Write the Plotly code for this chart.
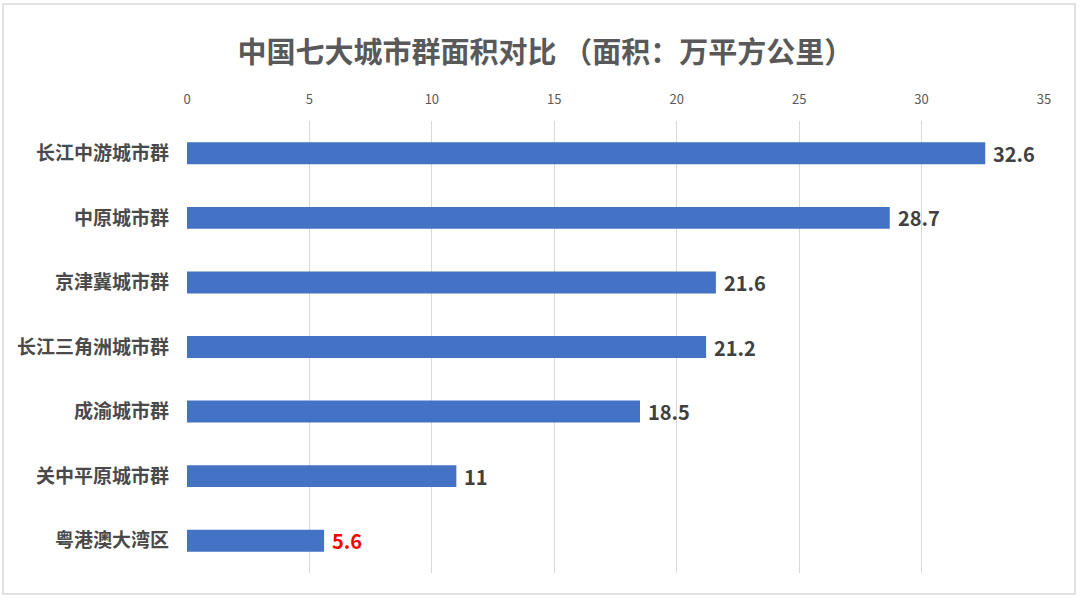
import plotly.graph_objects as go

categories = ["长江中游城市群", "中原城市群", "京津冀城市群", "长江三角洲城市群",
              "成渝城市群", "关中平原城市群", "粤港澳大湾区"]
values = [32.6, 28.7, 21.6, 21.2, 18.5, 11, 5.6]
label_texts = ["32.6", "28.7", "21.6", "21.2", "18.5", "11", "5.6"]
label_colors = ["#404040"] * 6 + ["#ff0000"]
tick_vals = [0, 5, 10, 15, 20, 25, 30, 35]
title_text = "中国七大城市群面积对比 （面积：万平方公里）"

FONT = "Noto Sans CJK SC, Noto Sans, sans-serif"

fig = go.Figure()
fig.add_trace(go.Bar(
    y=categories, x=values, orientation="h",
    marker=dict(color="#4472C4", line=dict(width=0)),
    width=0.34, hoverinfo="x+y",
))

for c, v, t, col in zip(categories, values, label_texts, label_colors):
    fig.add_annotation(x=v, y=c, text=f"<b>{t}</b>", showarrow=False,
                       xanchor="left", yanchor="middle", xshift=6,
                       font=dict(family=FONT, size=20, color=col))

fig.add_shape(type="rect", xref="paper", yref="paper",
              x0=(3 - 187) / 857, x1=(1075 - 187) / 857,
              y0=(573 - 594) / 452, y1=(573 - 4) / 452,
              line=dict(color="#d9d9d9", width=1.5), layer="below")

fig.update_layout(
    width=1080, height=600,
    margin=dict(l=187, r=36, t=121, b=27),
    paper_bgcolor="white", plot_bgcolor="white",
    showlegend=False,
    title=dict(text=f"<b>{title_text}</b>", x=0.505, xref="container", xanchor="center",
               y=1 - 53 / 600, yanchor="middle", yref="container",
               font=dict(family=FONT, size=29, color="#595959")),
    font=dict(family=FONT),
)
fig.update_xaxes(side="top", range=[0, 35], tickvals=tick_vals,
                 showgrid=True, gridcolor="#d9d9d9", gridwidth=1,
                 zeroline=False, showline=False, ticks="",
                 ticklabelstandoff=13,
                 tickfont=dict(family=FONT, size=13, color="#595959"))
fig.update_yaxes(autorange="reversed", showgrid=False, zeroline=False,
                 showline=False, ticks="", ticklabelstandoff=17,
                 tickfont=dict(family=FONT, size=19, color="#4a4a4a", weight="bold"))

fig.write_html("out.html", config={"displayModeBar": False},
               post_script="document.body.style.margin='0';document.body.style.overflow='hidden';")
